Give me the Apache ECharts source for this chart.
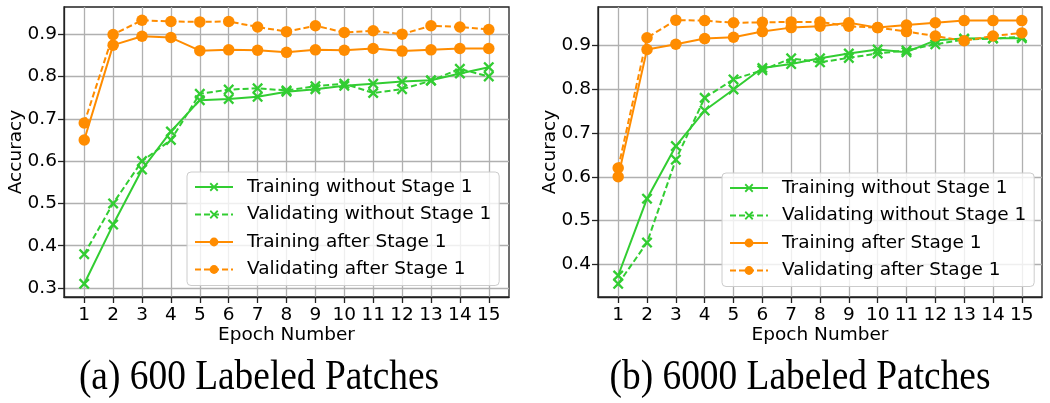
<!DOCTYPE html>
<html>
<head>
<meta charset="utf-8">
<script src="https://cdn.jsdelivr.net/npm/echarts@6/dist/echarts.min.js"></script>
<style>
html,body{margin:0;padding:0;background:#fff;}
#chart{width:1050px;height:403px;}
</style>
</head>
<body>
<div id="chart"></div>
<script>
// ---------- data ----------
const epochs = [1,2,3,4,5,6,7,8,9,10,11,12,13,14,15];
const xTicks = [1,2,3,4,5,6,7,8,9,10,11,12,13,14,15];
const yTicksA = [0.3,0.4,0.5,0.6,0.7,0.8,0.9];
const yTicksB = [0.4,0.5,0.6,0.7,0.8,0.9];
const seriesNames = ['Training without Stage 1','Validating without Stage 1','Training after Stage 1','Validating after Stage 1'];
const captions = ['(a) 600 Labeled Patches','(b) 6000 Labeled Patches'];

// (a) 600 labeled patches
const a_trainWithout = [0.31,0.45,0.58,0.67,0.744,0.747,0.752,0.764,0.770,0.778,0.783,0.788,0.791,0.807,0.822];
const a_validWithout = [0.38,0.50,0.60,0.65,0.759,0.769,0.772,0.767,0.777,0.783,0.761,0.770,0.790,0.818,0.800];
const a_trainAfter   = [0.65,0.874,0.895,0.892,0.861,0.863,0.862,0.857,0.863,0.862,0.866,0.860,0.863,0.866,0.866];
const a_validAfter   = [0.69,0.899,0.933,0.930,0.929,0.930,0.917,0.906,0.920,0.904,0.908,0.900,0.920,0.917,0.911];

// (b) 6000 labeled patches
const b_trainWithout = [0.375,0.55,0.67,0.751,0.799,0.848,0.857,0.870,0.881,0.890,0.884,0.911,0.915,0.916,0.916];
const b_validWithout = [0.356,0.45,0.639,0.780,0.822,0.843,0.870,0.861,0.871,0.881,0.888,0.902,0.913,0.915,0.919];
const b_trainAfter   = [0.60,0.890,0.902,0.915,0.918,0.931,0.940,0.943,0.951,0.940,0.946,0.951,0.956,0.956,0.956];
const b_validAfter   = [0.62,0.917,0.957,0.956,0.951,0.952,0.953,0.953,0.943,0.940,0.931,0.921,0.910,0.921,0.928];

// ---------- styles ----------
const GREEN = '#32CD32';
const ORANGE = '#FF8C00';
const FONT = 'DejaVu Sans';
const FS = 18.5;
const X_SYMBOL = 'path://M0,1.5L1.5,0L5,3.5L8.5,0L10,1.5L6.5,5L10,8.5L8.5,10L5,6.5L1.5,10L0,8.5L3.5,5Z';

function pairs(v){ return epochs.map((e,i)=>[e, v[i]]); }

function mkSeries(idx, name, vals, color, dashed, isX){
  return {
    type:'line', name, xAxisIndex:idx, yAxisIndex:idx,
    data: pairs(vals),
    symbol: isX ? X_SYMBOL : 'circle',
    symbolSize: isX ? 11 : 11.5,
    showAllSymbol:true,
    lineStyle:{color, width:2, type: dashed ? [6,3] : 'solid'},
    itemStyle:{color, borderWidth:0},
    emphasis:{disabled:true},
    animation:false,
    z: 3
  };
}

const grids = [
  {left:64, top:7, width:445, height:290},
  {left:598, top:7, width:444, height:290}
];

function xAxis(idx){
  return {
    type:'value', gridIndex:idx, min:0.3, max:15.7,
    name:'Epoch Number', nameLocation:'middle', nameGap:29, nameMoveOverlap:false,
    nameTextStyle:{fontFamily:FONT, fontSize:FS, color:'#000'},
    axisLine:{show:true, onZero:false, lineStyle:{color:'#222', width:1.3}},
    axisTick:{show:true, length:6, customValues:xTicks, lineStyle:{color:'#222', width:1.3}},
    axisLabel:{customValues:xTicks, fontFamily:FONT, fontSize:FS, color:'#000', margin:9,
      formatter:v=>String(Math.round(v))},
    splitLine:{show:true, lineStyle:{color:'#b0b0b0', width:1.3}}
  };
}
function yAxis(idx, min, max, ticks){
  return {
    type:'value', gridIndex:idx, min, max,
    name:'Accuracy', nameLocation:'middle', nameGap:38, nameRotate:90, nameMoveOverlap:false,
    nameTextStyle:{fontFamily:FONT, fontSize:FS, color:'#000'},
    axisLine:{show:true, onZero:false, lineStyle:{color:'#222', width:1.3}},
    axisTick:{show:true, length:6, customValues:ticks, lineStyle:{color:'#222', width:1.3}},
    axisLabel:{customValues:ticks, fontFamily:FONT, fontSize:FS, color:'#000', margin:7,
      formatter:v=>v.toFixed(1)},
    splitLine:{show:true, lineStyle:{color:'#b0b0b0', width:1.3}}
  };
}

function legend(left, top){
  return {
    orient:'vertical', left, top,
    data: seriesNames,
    itemWidth:38, itemHeight:11, itemGap:7.5,
    padding:[5,8,6,7],
    backgroundColor:'rgba(255,255,255,0.8)',
    borderColor:'#cccccc', borderWidth:1, borderRadius:4,
    textStyle:{fontFamily:FONT, fontSize:FS, color:'#000', lineHeight:20, padding:[0,0,0,9]},
    selectedMode:false,
    z: 10
  };
}

const option = {
  animation:false,
  backgroundColor:'#fff',
  grid: grids.map(g=>Object.assign({show:true, borderColor:'#222', borderWidth:1.3, backgroundColor:'transparent'}, g)),
  xAxis:[xAxis(0), xAxis(1)],
  yAxis:[yAxis(0,0.2788,0.9642,yTicksA), yAxis(1,0.326,0.987,yTicksB)],
  legend:[legend(187,172), legend(722,173)],
  series:[
    mkSeries(0, seriesNames[0], a_trainWithout, GREEN, false, true),
    mkSeries(0, seriesNames[1], a_validWithout, GREEN, true, true),
    mkSeries(0, seriesNames[2], a_trainAfter, ORANGE, false, false),
    mkSeries(0, seriesNames[3], a_validAfter, ORANGE, true, false),
    mkSeries(1, seriesNames[0], b_trainWithout, GREEN, false, true),
    mkSeries(1, seriesNames[1], b_validWithout, GREEN, true, true),
    mkSeries(1, seriesNames[2], b_trainAfter, ORANGE, false, false),
    mkSeries(1, seriesNames[3], b_validAfter, ORANGE, true, false)
  ],
  graphic:[
    {type:'text', x:259, y:378, scaleX:0.89, style:{text:captions[0], fontFamily:'Liberation Serif', fontSize:42, fill:'#000', align:'center', verticalAlign:'middle'}},
    {type:'text', x:800, y:378, scaleX:0.89, style:{text:captions[1], fontFamily:'Liberation Serif', fontSize:42, fill:'#000', align:'center', verticalAlign:'middle'}}
  ]
};

const chart = echarts.init(document.getElementById('chart'), null, {renderer:'canvas'});
chart.setOption(option);
</script>
</body>
</html>
